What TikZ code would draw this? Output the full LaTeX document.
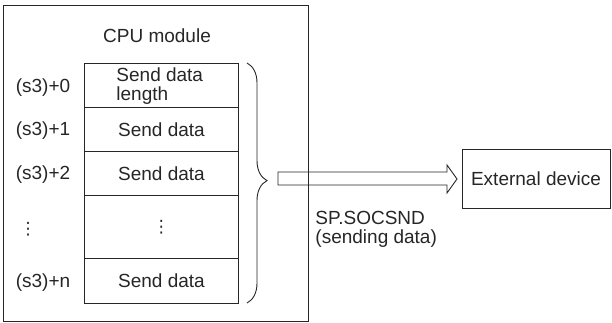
\documentclass[tikz,border=0pt]{standalone}
\usepackage{fontspec}
\setmainfont{Liberation Sans}
\newfontfamily\symfont{DejaVu Sans}
\usetikzlibrary{decorations.pathreplacing}
\begin{document}
\begin{tikzpicture}[x=1bp,y=-1bp,line width=0.9bp,
  txt/.style={font=\fontsize{19bp}{19bp}\selectfont,text=black!85,inner sep=0pt},
  dots/.style={font=\symfont\fontsize{17bp}{17bp}\selectfont,text=black!85,inner sep=0pt},
  cell/.style={draw=black!85,minimum width=154bp,inner sep=0pt,anchor=north west,txt},
  frame/.style={draw=black!85}]
\useasboundingbox (0,0) rectangle (612,322);
\draw[frame] (3,5) rectangle (308,321);
\node[txt] (cpu) at (157,36) {CPU module};
\node[cell,minimum height=44bp] (r0) at (84,63) {};
\node[cell,minimum height=44bp] (r1) at (84,107) {Send data};
\node[cell,minimum height=44bp] (r2) at (84,151) {Send data};
\node[cell,minimum height=63bp] (r3) at (84,195) {};
\node[dots] (r3t) at (r3.center) {⋮};
\node[cell,minimum height=45bp] (r4) at (84,258) {Send data};
\node[txt,align=left,anchor=west] (r0t) at (116,86) {Send data\\length};
\node[txt] (l0) at (43,88) {(s3)+0};
\node[txt] (l1) at (43,131) {(s3)+1};
\node[txt] (l2) at (43,175) {(s3)+2};
\node[dots] (l3) at (28,229) {⋮};
\node[txt] (l4) at (43,283) {(s3)+n};
\draw[frame,decorate,decoration={brace,amplitude=20bp,aspect=0.49}] (247,63) -- (247,303);
\node[draw=black!85,minimum width=148bp,minimum height=59bp,inner sep=0pt,txt] (ext) at (536,178.5) {External device};
\draw[frame,line join=miter] (278,172) -- (447,172) -- (447,165) -- (457,179) -- (447,193) -- (447,185) -- (278,185) -- cycle;
\node[txt,align=left,anchor=north west] (lab) at (315,211) {SP.SOCSND\\(sending data)};
\end{tikzpicture}
\end{document}
